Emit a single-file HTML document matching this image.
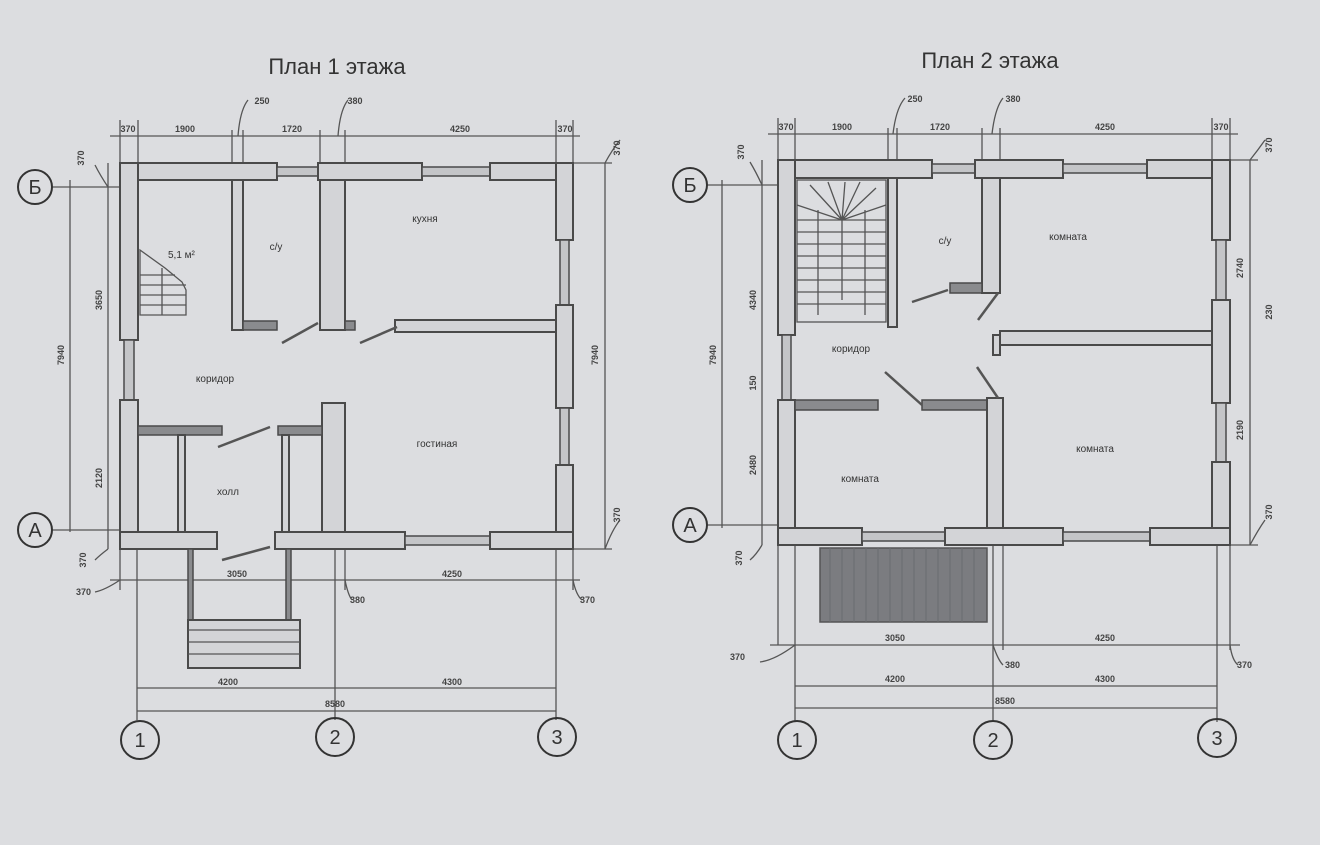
<!DOCTYPE html>
<html><head><meta charset="utf-8"><style>
html,body{margin:0;padding:0;background:#dcdde0;}
svg{display:block;}
text{font-family:"Liberation Sans","DejaVu Sans",sans-serif;fill:#333;}
.w{fill:#d3d4d7;stroke:#4a4a4a;stroke-width:2;}
.d{fill:#8a8b8e;stroke:#4a4a4a;stroke-width:1.5;}
.win{fill:#c4c5c8;stroke:#4a4a4a;stroke-width:1.5;}
.l{stroke:#555;stroke-width:1.3;fill:none;}
.dr{stroke:#555;stroke-width:2.5;fill:none;}
.c{fill:none;stroke:#333;stroke-width:2;}
.ax{font-size:20px;fill:#333;}
.dim{font-size:9px;fill:#444;font-weight:bold;}
.rm{font-size:10px;fill:#333;}
</style></head><body>
<svg width="1320" height="845" viewBox="0 0 1320 845" xmlns="http://www.w3.org/2000/svg">
<rect width="1320" height="845" fill="#dcdde0"/>
<text x="337" y="74" font-size="22" text-anchor="middle" fill="#333">План 1 этажа</text>
<text x="990" y="68" font-size="22" text-anchor="middle" fill="#333">План 2 этажа</text>

<!-- ================= PLAN 1 ================= -->
<g>
<!-- dimension lines -->
<line class="l" x1="110" y1="136" x2="580" y2="136"/>
<g class="l">
<line x1="120" y1="120" x2="120" y2="163"/><line x1="138" y1="120" x2="138" y2="163"/>
<line x1="232" y1="130" x2="232" y2="163"/><line x1="243" y1="130" x2="243" y2="163"/>
<line x1="320" y1="130" x2="320" y2="163"/><line x1="345" y1="130" x2="345" y2="163"/>
<line x1="556" y1="120" x2="556" y2="163"/><line x1="573" y1="120" x2="573" y2="163"/>
<path d="M238 136 Q240 110 248 100"/><path d="M338 136 Q340 110 348 100"/>
<line x1="70" y1="180" x2="70" y2="532"/><line x1="52" y1="187" x2="120" y2="187"/><line x1="52" y1="530" x2="120" y2="530"/>
<line x1="108" y1="163" x2="108" y2="549"/>
<line x1="605" y1="163" x2="605" y2="549"/><line x1="573" y1="163" x2="612" y2="163"/><line x1="573" y1="549" x2="612" y2="549"/>
<path d="M605 163 Q612 150 620 140"/><path d="M605 549 Q612 530 620 520"/>
<path d="M108 187 Q100 175 95 165"/><path d="M108 549 Q100 555 95 560"/>
<line x1="110" y1="580" x2="580" y2="580"/>
<line x1="137" y1="549" x2="137" y2="720"/><line x1="335" y1="549" x2="335" y2="720"/><line x1="556" y1="549" x2="556" y2="720"/>
<line x1="120" y1="549" x2="120" y2="590"/><line x1="345" y1="549" x2="345" y2="590"/><line x1="573" y1="549" x2="573" y2="590"/>
<path d="M120 580 Q105 590 95 592"/><path d="M345 580 Q348 595 352 600"/><path d="M573 580 Q576 595 582 600"/>
<line x1="137" y1="688" x2="556" y2="688"/><line x1="137" y1="711" x2="556" y2="711"/>
</g>
<text class="dim" x="128" y="132" text-anchor="middle">370</text>
<text class="dim" x="185" y="132" text-anchor="middle">1900</text>
<text class="dim" x="292" y="132" text-anchor="middle">1720</text>
<text class="dim" x="460" y="132" text-anchor="middle">4250</text>
<text class="dim" x="565" y="132" text-anchor="middle">370</text>
<text class="dim" x="262" y="104" text-anchor="middle">250</text>
<text class="dim" x="355" y="104" text-anchor="middle">380</text>
<text class="dim" x="84" y="158" transform="rotate(-90 84 158)" text-anchor="middle">370</text>
<text class="dim" x="620" y="148" transform="rotate(-90 620 148)" text-anchor="middle">370</text>
<text class="dim" x="620" y="515" transform="rotate(-90 620 515)" text-anchor="middle">370</text>
<text class="dim" x="64" y="355" transform="rotate(-90 64 355)" text-anchor="middle">7940</text>
<text class="dim" x="598" y="355" transform="rotate(-90 598 355)" text-anchor="middle">7940</text>
<text class="dim" x="102" y="300" transform="rotate(-90 102 300)" text-anchor="middle">3650</text>
<text class="dim" x="102" y="478" transform="rotate(-90 102 478)" text-anchor="middle">2120</text>
<text class="dim" x="86" y="560" transform="rotate(-90 86 560)" text-anchor="middle">370</text>
<text class="dim" x="76" y="595">370</text>
<text class="dim" x="237" y="577" text-anchor="middle">3050</text>
<text class="dim" x="452" y="577" text-anchor="middle">4250</text>
<text class="dim" x="350" y="603">380</text>
<text class="dim" x="580" y="603">370</text>
<text class="dim" x="228" y="685" text-anchor="middle">4200</text>
<text class="dim" x="452" y="685" text-anchor="middle">4300</text>
<text class="dim" x="335" y="707" text-anchor="middle">8580</text>
<circle class="c" cx="35" cy="187" r="17"/><text class="ax" x="35" y="194" text-anchor="middle">Б</text>
<circle class="c" cx="35" cy="530" r="17"/><text class="ax" x="35" y="537" text-anchor="middle">А</text>
<circle class="c" cx="140" cy="740" r="19"/><text class="ax" x="140" y="747" text-anchor="middle">1</text>
<circle class="c" cx="335" cy="737" r="19"/><text class="ax" x="335" y="744" text-anchor="middle">2</text>
<circle class="c" cx="557" cy="737" r="19"/><text class="ax" x="557" y="744" text-anchor="middle">3</text>

<!-- outer walls -->
<rect class="w" x="120" y="163" width="157" height="17"/>
<rect class="win" x="277" y="167" width="41" height="9"/>
<rect class="w" x="318" y="163" width="104" height="17"/>
<rect class="win" x="422" y="167" width="68" height="9"/>
<rect class="w" x="490" y="163" width="83" height="17"/>
<rect class="w" x="556" y="163" width="17" height="77"/>
<rect class="win" x="560" y="240" width="9" height="65"/>
<rect class="w" x="556" y="305" width="17" height="103"/>
<rect class="win" x="560" y="408" width="9" height="57"/>
<rect class="w" x="556" y="465" width="17" height="84"/>
<rect class="w" x="120" y="163" width="18" height="177"/>
<rect class="win" x="124" y="340" width="10" height="60"/>
<rect class="w" x="120" y="400" width="18" height="149"/>
<rect class="w" x="120" y="532" width="97" height="17"/>
<rect class="w" x="275" y="532" width="130" height="17"/>
<rect class="win" x="405" y="536" width="85" height="9"/>
<rect class="w" x="490" y="532" width="83" height="17"/>
<!-- interior -->
<rect class="w" x="232" y="180" width="11" height="150"/>
<rect class="d" x="243" y="321" width="34" height="9"/>
<rect class="w" x="320" y="180" width="25" height="150"/>
<rect class="d" x="345" y="321" width="10" height="9"/>
<rect class="w" x="395" y="320" width="161" height="12"/>
<rect class="w" x="322" y="403" width="23" height="129"/>
<rect class="d" x="138" y="426" width="84" height="9"/>
<rect class="d" x="278" y="426" width="44" height="9"/>
<rect class="w" x="178" y="435" width="7" height="97"/>
<rect class="w" x="282" y="435" width="7" height="97"/>
<line class="dr" x1="282" y1="343" x2="318" y2="323"/>
<line class="dr" x1="360" y1="343" x2="397" y2="327"/>
<line class="dr" x1="218" y1="447" x2="270" y2="427"/>
<line class="dr" x1="222" y1="560" x2="270" y2="547"/>
<!-- stair -->
<g class="l"><path d="M140 250 L165 268 L182 282 L186 290 L186 315 L140 315 Z"/>
<line x1="140" y1="275" x2="175" y2="275"/><line x1="140" y1="285" x2="186" y2="285"/><line x1="140" y1="295" x2="186" y2="295"/><line x1="140" y1="305" x2="186" y2="305"/><line x1="162" y1="268" x2="162" y2="315"/></g>
<!-- porch -->
<rect class="d" x="188" y="549" width="5" height="72"/>
<rect class="d" x="286" y="549" width="5" height="72"/>
<rect class="w" x="188" y="620" width="112" height="48"/>
<g class="l" stroke-width="3"><line x1="188" y1="630" x2="300" y2="630"/><line x1="188" y1="642" x2="300" y2="642"/><line x1="188" y1="654" x2="300" y2="654"/></g>
<text class="rm" x="168" y="258">5,1 м²</text>
<text class="rm" x="276" y="250" text-anchor="middle">с/у</text>
<text class="rm" x="425" y="222" text-anchor="middle">кухня</text>
<text class="rm" x="215" y="382" text-anchor="middle">коридор</text>
<text class="rm" x="437" y="447" text-anchor="middle">гостиная</text>
<text class="rm" x="228" y="495" text-anchor="middle">холл</text>
</g>

<!-- ================= PLAN 2 ================= -->
<g>
<line class="l" x1="768" y1="134" x2="1238" y2="134"/>
<g class="l">
<line x1="778" y1="118" x2="778" y2="160"/><line x1="795" y1="118" x2="795" y2="160"/>
<line x1="888" y1="128" x2="888" y2="160"/><line x1="897" y1="128" x2="897" y2="160"/>
<line x1="982" y1="128" x2="982" y2="160"/><line x1="1000" y1="128" x2="1000" y2="160"/>
<line x1="1212" y1="118" x2="1212" y2="160"/><line x1="1230" y1="118" x2="1230" y2="160"/>
<path d="M893 134 Q896 108 905 98"/><path d="M992 134 Q995 108 1003 98"/>
<line x1="722" y1="180" x2="722" y2="528"/><line x1="706" y1="185" x2="778" y2="185"/><line x1="706" y1="525" x2="778" y2="525"/>
<line x1="762" y1="160" x2="762" y2="545"/>
<line x1="1250" y1="160" x2="1250" y2="545"/><line x1="1230" y1="160" x2="1258" y2="160"/><line x1="1230" y1="545" x2="1258" y2="545"/>
<path d="M1250 160 Q1258 150 1265 140"/><path d="M1250 545 Q1258 530 1265 520"/>
<path d="M762 185 Q756 172 750 162"/><path d="M762 545 Q756 555 750 560"/>
<line x1="778" y1="545" x2="778" y2="645"/>
<line x1="770" y1="645" x2="1240" y2="645"/>
<line x1="795" y1="545" x2="795" y2="722"/><line x1="993" y1="545" x2="993" y2="722"/><line x1="1217" y1="545" x2="1217" y2="722"/>
<line x1="1003" y1="545" x2="1003" y2="650"/><line x1="1230" y1="545" x2="1230" y2="650"/>
<path d="M795 645 Q775 660 760 662"/><path d="M993 645 Q998 660 1003 665"/><path d="M1230 645 Q1232 660 1238 665"/>
<line x1="795" y1="686" x2="1217" y2="686"/><line x1="795" y1="708" x2="1217" y2="708"/>
</g>
<text class="dim" x="786" y="130" text-anchor="middle">370</text>
<text class="dim" x="842" y="130" text-anchor="middle">1900</text>
<text class="dim" x="940" y="130" text-anchor="middle">1720</text>
<text class="dim" x="1105" y="130" text-anchor="middle">4250</text>
<text class="dim" x="1221" y="130" text-anchor="middle">370</text>
<text class="dim" x="915" y="102" text-anchor="middle">250</text>
<text class="dim" x="1013" y="102" text-anchor="middle">380</text>
<text class="dim" x="744" y="152" transform="rotate(-90 744 152)" text-anchor="middle">370</text>
<text class="dim" x="1272" y="145" transform="rotate(-90 1272 145)" text-anchor="middle">370</text>
<text class="dim" x="1272" y="312" transform="rotate(-90 1272 312)" text-anchor="middle">230</text>
<text class="dim" x="1272" y="512" transform="rotate(-90 1272 512)" text-anchor="middle">370</text>
<text class="dim" x="716" y="355" transform="rotate(-90 716 355)" text-anchor="middle">7940</text>
<text class="dim" x="1243" y="268" transform="rotate(-90 1243 268)" text-anchor="middle">2740</text>
<text class="dim" x="1243" y="430" transform="rotate(-90 1243 430)" text-anchor="middle">2190</text>
<text class="dim" x="756" y="300" transform="rotate(-90 756 300)" text-anchor="middle">4340</text>
<text class="dim" x="756" y="383" transform="rotate(-90 756 383)" text-anchor="middle">150</text>
<text class="dim" x="756" y="465" transform="rotate(-90 756 465)" text-anchor="middle">2480</text>
<text class="dim" x="742" y="558" transform="rotate(-90 742 558)" text-anchor="middle">370</text>
<text class="dim" x="730" y="660">370</text>
<text class="dim" x="895" y="641" text-anchor="middle">3050</text>
<text class="dim" x="1105" y="641" text-anchor="middle">4250</text>
<text class="dim" x="1005" y="668">380</text>
<text class="dim" x="1237" y="668">370</text>
<text class="dim" x="895" y="682" text-anchor="middle">4200</text>
<text class="dim" x="1105" y="682" text-anchor="middle">4300</text>
<text class="dim" x="1005" y="704" text-anchor="middle">8580</text>
<circle class="c" cx="690" cy="185" r="17"/><text class="ax" x="690" y="192" text-anchor="middle">Б</text>
<circle class="c" cx="690" cy="525" r="17"/><text class="ax" x="690" y="532" text-anchor="middle">А</text>
<circle class="c" cx="797" cy="740" r="19"/><text class="ax" x="797" y="747" text-anchor="middle">1</text>
<circle class="c" cx="993" cy="740" r="19"/><text class="ax" x="993" y="747" text-anchor="middle">2</text>
<circle class="c" cx="1217" cy="738" r="19"/><text class="ax" x="1217" y="745" text-anchor="middle">3</text>

<!-- outer walls -->
<rect class="w" x="778" y="160" width="154" height="18"/>
<rect class="win" x="932" y="164" width="43" height="9"/>
<rect class="w" x="975" y="160" width="88" height="18"/>
<rect class="win" x="1063" y="164" width="84" height="9"/>
<rect class="w" x="1147" y="160" width="83" height="18"/>
<rect class="w" x="1212" y="160" width="18" height="80"/>
<rect class="win" x="1216" y="240" width="10" height="60"/>
<rect class="w" x="1212" y="300" width="18" height="103"/>
<rect class="win" x="1216" y="403" width="10" height="59"/>
<rect class="w" x="1212" y="462" width="18" height="83"/>
<rect class="w" x="778" y="160" width="17" height="175"/>
<rect class="win" x="782" y="335" width="9" height="65"/>
<rect class="w" x="778" y="400" width="17" height="145"/>
<rect class="w" x="778" y="528" width="84" height="17"/>
<rect class="win" x="862" y="532" width="83" height="9"/>
<rect class="w" x="945" y="528" width="118" height="17"/>
<rect class="win" x="1063" y="532" width="87" height="9"/>
<rect class="w" x="1150" y="528" width="80" height="17"/>
<!-- interior -->
<rect class="w" x="888" y="178" width="9" height="149"/>
<rect class="w" x="982" y="178" width="18" height="115"/>
<rect class="d" x="950" y="283" width="32" height="10"/>
<rect class="w" x="1000" y="331" width="212" height="14"/>
<rect class="w" x="993" y="335" width="7" height="20"/>
<rect class="d" x="795" y="400" width="83" height="10"/>
<rect class="d" x="922" y="400" width="76" height="10"/>
<rect class="w" x="987" y="398" width="16" height="130"/>
<line class="dr" x1="912" y1="302" x2="948" y2="290"/>
<line class="dr" x1="978" y1="320" x2="998" y2="293"/>
<line class="dr" x1="977" y1="367" x2="998" y2="398"/>
<line class="dr" x1="885" y1="372" x2="922" y2="405"/>
<!-- stair -->
<g class="l">
<rect x="797" y="180" width="89" height="142" fill="none"/>
<line x1="797" y1="220" x2="886" y2="220"/><line x1="797" y1="232" x2="886" y2="232"/><line x1="797" y1="244" x2="886" y2="244"/><line x1="797" y1="256" x2="886" y2="256"/><line x1="797" y1="268" x2="886" y2="268"/><line x1="797" y1="280" x2="886" y2="280"/><line x1="797" y1="292" x2="886" y2="292"/><line x1="797" y1="304" x2="886" y2="304"/>
<line x1="818" y1="210" x2="818" y2="315"/><line x1="842" y1="220" x2="842" y2="300"/><line x1="865" y1="210" x2="865" y2="315"/>
<path d="M842 220 L810 185 M842 220 L828 182 M842 220 L845 182 M842 220 L860 182 M842 220 L876 188 M842 220 L886 205 M842 220 L797 205"/>
</g>
<!-- balcony hatch -->
<rect x="820" y="548" width="167" height="74" fill="#7b7c80" stroke="#555" stroke-width="1.5"/>
<g stroke="#6a6b6f" stroke-width="1">
<line x1="830" y1="548" x2="830" y2="622"/><line x1="842" y1="548" x2="842" y2="622"/><line x1="854" y1="548" x2="854" y2="622"/><line x1="866" y1="548" x2="866" y2="622"/><line x1="878" y1="548" x2="878" y2="622"/><line x1="890" y1="548" x2="890" y2="622"/><line x1="902" y1="548" x2="902" y2="622"/><line x1="914" y1="548" x2="914" y2="622"/><line x1="926" y1="548" x2="926" y2="622"/><line x1="938" y1="548" x2="938" y2="622"/><line x1="950" y1="548" x2="950" y2="622"/><line x1="962" y1="548" x2="962" y2="622"/><line x1="974" y1="548" x2="974" y2="622"/>
</g>
<text class="rm" x="945" y="244" text-anchor="middle">с/у</text>
<text class="rm" x="1068" y="240" text-anchor="middle">комната</text>
<text class="rm" x="851" y="352" text-anchor="middle">коридор</text>
<text class="rm" x="860" y="482" text-anchor="middle">комната</text>
<text class="rm" x="1095" y="452" text-anchor="middle">комната</text>
</g>
</svg>
</body></html>
